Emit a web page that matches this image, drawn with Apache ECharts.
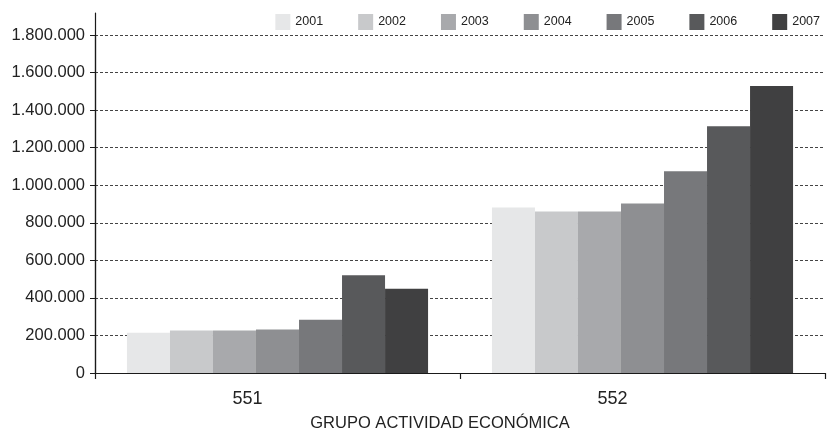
<!DOCTYPE html>
<html>
<head>
<meta charset="utf-8">
<script src="https://cdn.jsdelivr.net/npm/echarts@6/dist/echarts.min.js"></script>
<style>
  html, body { margin: 0; padding: 0; background: #ffffff; }
  #chart { width: 831px; height: 434px; }
</style>
</head>
<body>
<div id="chart"></div>
<script>
// Economic activity groups on the x axis
const categories = ['551', '552'];
// One series per year
const years = ['2001', '2002', '2003', '2004', '2005', '2006', '2007'];
const v2001 = [215000, 881000];
const v2002 = [226000, 860000];
const v2003 = [226000, 860000];
const v2004 = [231000, 903000];
const v2005 = [283000, 1074000];
const v2006 = [520000, 1314000];
const v2007 = [449000, 1528000];
const yearValues = [v2001, v2002, v2003, v2004, v2005, v2006, v2007];
const yearColors = ['#e6e7e8', '#c8c9cb', '#a8a9ac', '#8e8f92', '#77787b', '#58595b', '#404041'];
const axisTitle = 'GRUPO ACTIVIDAD ECONÓMICA';

const FONT = '"Liberation Sans", Arial, sans-serif';

function fmtThousands(v) {
  return String(v).replace(/\B(?=(\d{3})+(?!\d))/g, '.');
}

const chart = echarts.init(document.getElementById('chart'), null, { renderer: 'canvas' });

const series = years.map((y, i) => ({
  name: y,
  type: 'bar',
  xAxisIndex: 0,
  yAxisIndex: 0,
  data: yearValues[i],
  barGap: '0%',
  barCategoryGap: '17.5%',
  itemStyle: { color: yearColors[i] },
  emphasis: { disabled: true }
}));

chart.setOption({
  animation: false,
  backgroundColor: '#ffffff',
  textStyle: { fontFamily: FONT },
  legend: {
    data: years,
    right: 6,
    top: 9,
    itemWidth: 15,
    itemHeight: 16,
    itemGap: 35,
    icon: 'rect',
    textStyle: { fontFamily: FONT, fontSize: 12.5, color: '#222222' }
  },
  grid: [
    { left: 95, right: 6, top: 35, bottom: 61, containLabel: false, outerBoundsMode: 'none' },
    // taller frame whose only purpose is the y axis line running above the last gridline
    { left: 95, right: 6, top: 13, bottom: 61, containLabel: false, outerBoundsMode: 'none' }
  ],
  xAxis: [
    {
      type: 'category',
      gridIndex: 0,
      data: categories,
      name: axisTitle,
      nameLocation: 'middle',
      nameGap: 42,
      nameTextStyle: { fontFamily: FONT, fontSize: 16.5, color: '#222222', padding: [0, 40, 0, 0] },
      axisLine: { show: true, lineStyle: { color: '#1a1a1a', width: 1.2 } },
      axisTick: { show: true, length: 6, lineStyle: { color: '#1a1a1a', width: 1.2 } },
      axisLabel: { fontFamily: FONT, fontSize: 18, color: '#222222', margin: 17, padding: [0, 60, 0, 0] },
      splitLine: { show: false }
    },
    {
      type: 'category',
      gridIndex: 1,
      data: categories,
      show: false
    }
  ],
  yAxis: [
    {
      type: 'value',
      gridIndex: 0,
      min: 0,
      max: 1800000,
      interval: 200000,
      axisLine: { show: true, lineStyle: { color: '#1a1a1a', width: 1.2 } },
      axisTick: { show: true, length: 5, lineStyle: { color: '#1a1a1a', width: 1 } },
      axisLabel: { fontFamily: FONT, fontSize: 16.5, color: '#222222', margin: 10, formatter: fmtThousands },
      splitLine: { show: true, lineStyle: { color: '#444444', width: 1, type: [3, 2] } }
    },
    {
      type: 'value',
      gridIndex: 1,
      min: 0,
      max: 1920000,
      axisLine: { show: true, lineStyle: { color: '#1a1a1a', width: 1.2 } },
      axisTick: { show: false },
      axisLabel: { show: false },
      splitLine: { show: false }
    }
  ],
  series: series
});
</script>
</body>
</html>
